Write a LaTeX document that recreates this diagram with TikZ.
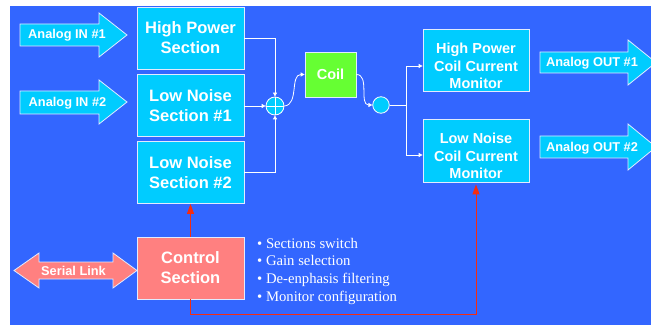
\documentclass[tikz,border=0pt]{standalone}
\usepackage{fontspec}
\setmainfont{Liberation Sans}
\newfontfamily\seriffont{Liberation Serif}
\usetikzlibrary{arrows.meta,calc}

\definecolor{bgblue}{RGB}{51,102,255}
\definecolor{boxcyan}{RGB}{0,204,255}
\definecolor{coilgreen}{RGB}{102,255,51}
\definecolor{ctrlpink}{RGB}{255,128,128}
\definecolor{redline}{RGB}{245,45,15}
\definecolor{edgecol}{RGB}{225,235,255}

\begin{document}
\begin{tikzpicture}[x=1pt,y=-1pt,
  box/.style={draw=edgecol, line width=0.8pt, fill=boxcyan, text=white,
    font=\fontsize{16.5}{20}\selectfont\bfseries, align=center,
    minimum width=107pt, minimum height=62pt, inner sep=0pt},
  montext/.style={text=white, font=\fontsize{14.5}{17.5}\selectfont\bfseries,
    align=center, inner sep=0pt},
  arrowshape/.style={fill=boxcyan, draw=edgecol, line width=0.8pt},
  arrowlabel/.style={text=white, font=\fontsize{12.8}{14}\selectfont\bfseries, inner sep=0pt},
  wire/.style={draw=white, line width=0.8pt},
  wtip/.style={-{Triangle[length=4pt,width=4pt]}},
  redwire/.style={draw=redline, line width=1pt, -{Triangle[length=10pt,width=7pt]}},
  bullet/.style={anchor=base west, text=white, inner sep=0pt,
    font=\seriffont\fontsize{14.7}{17}\selectfont},
]
\useasboundingbox (0,0) rectangle (651,326);
\clip (0,0) rectangle (651,326);
\fill[bgblue] (10,6) rectangle (651,325);

% input arrows
\draw[arrowshape] (20,24) -- (99,24) -- (99,13) -- (127,35) -- (99,57) -- (99,46) -- (20,46) -- cycle;
\node[arrowlabel] (in1) at (67,35) {Analog IN \#1};
\draw[arrowshape] (20,91) -- (99,91) -- (99,80) -- (127,102) -- (99,124) -- (99,114) -- (20,114) -- cycle;
\node[arrowlabel] (in2) at (67.5,103) {Analog IN \#2};

% output arrows
\draw[arrowshape] (540,52) -- (628,52) -- (628,40) -- (656,62.5) -- (628,85) -- (628,73) -- (540,73) -- cycle;
\node[arrowlabel] (out1) at (592,63.5) {Analog OUT \#1};
\draw[arrowshape] (540,136) -- (628,136) -- (628,124) -- (656,147) -- (628,170) -- (628,158) -- (540,158) -- cycle;
\node[arrowlabel] (out2) at (592,148) {Analog OUT \#2};

% serial link
\draw[fill=ctrlpink, draw=edgecol, line width=0.8pt] (14,270.5) -- (39,253) -- (39,262) -- (113,262) -- (113,253) -- (137,270.5) -- (113,288) -- (113,279) -- (39,279) -- (39,288) -- cycle;
\node[arrowlabel] (serial) at (73.5,271) {Serial Link};

% boxes
\node[box] (hps) at (190.5,38) {High Power\\Section};
\node[box] (lns1) at (190.5,105.5) {Low Noise\\Section \#1};
\node[box] (lns2) at (190.5,172.5) {Low Noise\\Section \#2};
\node[box, fill=ctrlpink] (ctrl) at (190.5,268) {Control\\Section};
\node[box, fill=coilgreen, minimum width=51pt, minimum height=45pt,
  font=\fontsize{14.5}{17}\selectfont\bfseries] (coil) at (330.5,74.5) {Coil};
\node[box, minimum width=106pt, minimum height=62pt] (hpm) at (476,60) {};
\node[montext] (hpmtext) at (476,66) {High Power\\Coil Current\\Monitor};
\node[box, minimum width=106pt, minimum height=63pt] (lnm) at (476,150.5) {};
\node[montext] (lnmtext) at (476,156) {Low Noise\\Coil Current\\Monitor};

% summing junction and sensor
\node[circle, fill=boxcyan, draw=white, line width=0.8pt, minimum size=18pt, inner sep=0pt] (sum) at (275,106) {};
\draw[white, line width=0.8pt] (sum.north) -- (sum.south) (sum.west) -- (sum.east);
\node[circle, fill=boxcyan, draw=white, line width=0.8pt, minimum size=16.5pt, inner sep=0pt] (sens) at (381,105) {};

% white connectors
\draw[wire, wtip] (hps.east) -| (sum.north);
\draw[wire, wtip] (lns1.east |- sum.west) -- (sum.west);
\draw[wire, wtip] (lns2.east) -| (sum.south);
\draw[wire, wtip] (sum.east) to[out=5, in=180] (coil.west);
\draw[wire, wtip] (coil.east) to[out=0, in=180] (sens.west);
\coordinate (split) at (406,105);
\draw[wire] (sens.east) -- (split);
\draw[wire, wtip] (split) |- ([yshift=-6pt]hpm.west);
\draw[wire, wtip] (split) |- ([yshift=-4.5pt]lnm.west);

% red control lines
\draw[redwire] (ctrl.north) -- (lns2.south);
\draw[redwire, shorten >=2pt] (ctrl.south) -- ++(0,15) -| (lnm.south);

% bullet list
\node[bullet] (b1) at (257,248) {• Sections switch};
\node[bullet] (b2) at (257,265.5) {• Gain selection};
\node[bullet] (b3) at (257,283.5) {• De-enphasis filtering};
\node[bullet] (b4) at (257,301.5) {• Monitor configuration};
\end{tikzpicture}
\end{document}
